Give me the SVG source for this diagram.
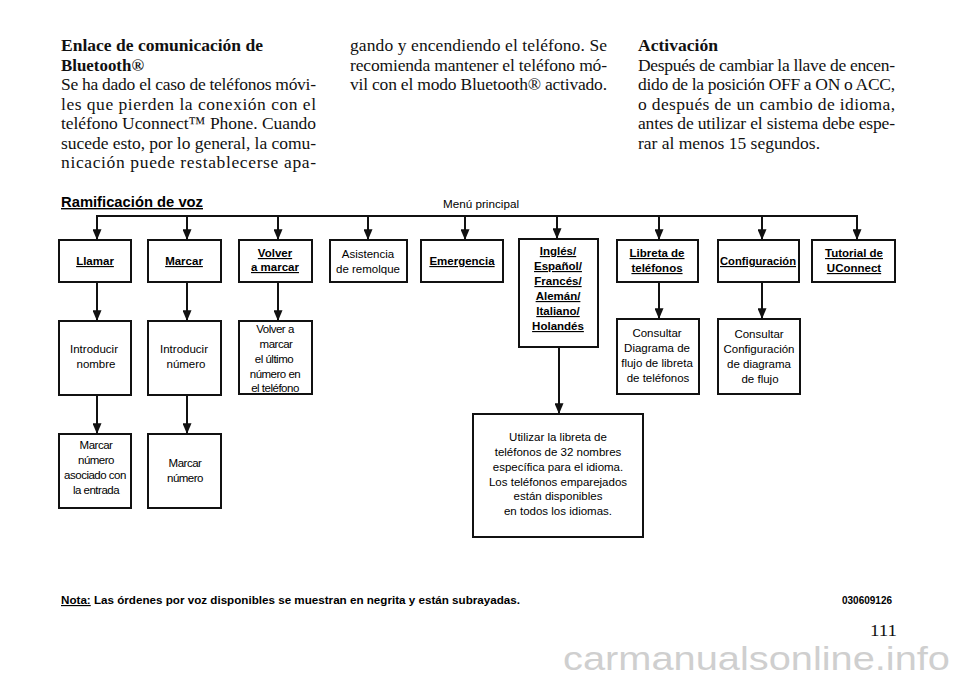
<svg xmlns="http://www.w3.org/2000/svg" width="960" height="678" viewBox="0 0 960 678">
<style>
.bg{fill:#ffffff}
.ser{font-family:"Liberation Serif","Times New Roman",serif;font-size:17.5px;fill:#111}
.serb{font-family:"Liberation Serif","Times New Roman",serif;font-size:17.5px;font-weight:bold;fill:#111}
.box{fill:#ffffff;stroke:#111;stroke-width:2}
.lb{font-family:"Liberation Sans",Arial,sans-serif;font-size:11.5px;font-weight:bold;fill:#000;text-anchor:middle;text-decoration:underline}
.lr{font-family:"Liberation Sans",Arial,sans-serif;font-size:11.5px;fill:#000;text-anchor:middle}
.lc{font-family:"Liberation Sans",Arial,sans-serif;font-size:11.5px;fill:#000;text-anchor:middle;letter-spacing:-0.5px}
.con{stroke:#111;stroke-width:2;fill:none}
.arr{stroke:#111;stroke-width:2;fill:none;marker-end:url(#ah)}
.sans{font-family:"Liberation Sans",Arial,sans-serif;fill:#000}
</style>
<defs>
<marker id="ah" viewBox="0 0 12 10" refX="12" refY="5" markerWidth="12" markerHeight="9" markerUnits="userSpaceOnUse" orient="auto">
<path d="M0,0 L12,5 L0,10 z" fill="#111"/>
</marker>
</defs>
<rect class="bg" x="0" y="0" width="960" height="678"/>

<g id="text-col1">
<text class="serb" x="61" y="51" textLength="202" lengthAdjust="spacingAndGlyphs">Enlace de comunicación de</text>
<text class="serb" x="61" y="70.5" textLength="83" lengthAdjust="spacingAndGlyphs">Bluetooth®</text>
<text class="ser" x="61" y="90" textLength="255" lengthAdjust="spacing">Se ha dado el caso de teléfonos móvi-</text>
<text class="ser" x="61" y="109.5" textLength="255" lengthAdjust="spacing">les que pierden la conexión con el</text>
<text class="ser" x="61" y="129" textLength="255" lengthAdjust="spacing">teléfono Uconnect™ Phone. Cuando</text>
<text class="ser" x="61" y="148.5" textLength="255" lengthAdjust="spacing">sucede esto, por lo general, la comu-</text>
<text class="ser" x="61" y="168" textLength="255" lengthAdjust="spacing">nicación puede restablecerse apa-</text>
</g>
<g id="text-col2">
<text class="ser" x="350" y="51" textLength="257" lengthAdjust="spacing">gando y encendiendo el teléfono. Se</text>
<text class="ser" x="350" y="70.5" textLength="257" lengthAdjust="spacing">recomienda mantener el teléfono mó-</text>
<text class="ser" x="350" y="90" textLength="257" lengthAdjust="spacing">vil con el modo Bluetooth® activado.</text>
</g>
<g id="text-col3">
<text class="serb" x="638" y="51" textLength="80" lengthAdjust="spacingAndGlyphs">Activación</text>
<text class="ser" x="638" y="70.5" textLength="257" lengthAdjust="spacing">Después de cambiar la llave de encen-</text>
<text class="ser" x="638" y="90" textLength="257" lengthAdjust="spacing">dido de la posición OFF a ON o ACC,</text>
<text class="ser" x="638" y="109.5" textLength="257" lengthAdjust="spacing">o después de un cambio de idioma,</text>
<text class="ser" x="638" y="129" textLength="257" lengthAdjust="spacing">antes de utilizar el sistema debe espe-</text>
<text class="ser" x="638" y="148.5" textLength="182" lengthAdjust="spacing">rar al menos 15 segundos.</text>
</g>

<g id="title">
<text class="sans" x="61" y="207" font-size="14" font-weight="bold" text-decoration="underline" textLength="142" lengthAdjust="spacingAndGlyphs">Ramificación de voz</text>
<text class="sans" x="443" y="208" font-size="11.5" textLength="76" lengthAdjust="spacingAndGlyphs">Menú principal</text>
</g>

<g id="connectors">
<path class="con" d="M97,217 V216 H857 V217"/>
<line class="arr" x1="97" y1="215" x2="97" y2="240"/>
<line class="arr" x1="187" y1="216" x2="187" y2="240"/>
<line class="arr" x1="278" y1="216" x2="278" y2="240"/>
<line class="arr" x1="368" y1="216" x2="368" y2="240"/>
<line class="arr" x1="465" y1="216" x2="465" y2="240"/>
<line class="arr" x1="557" y1="216" x2="557" y2="239"/>
<line class="arr" x1="659" y1="216" x2="659" y2="240"/>
<line class="arr" x1="762" y1="216" x2="762" y2="240"/>
<line class="arr" x1="857" y1="215" x2="857" y2="240"/>
<line class="arr" x1="97" y1="282" x2="97" y2="321"/>
<line class="arr" x1="97" y1="395" x2="97" y2="434"/>
<line class="arr" x1="187" y1="282" x2="187" y2="321"/>
<line class="arr" x1="187" y1="395" x2="187" y2="434"/>
<line class="arr" x1="278" y1="282" x2="278" y2="321"/>
<line class="arr" x1="659" y1="282" x2="659" y2="319"/>
<line class="arr" x1="762" y1="282" x2="762" y2="319"/>
<line class="arr" x1="559" y1="347" x2="559" y2="414"/>
</g>

<g id="n-llamar">
<rect class="box" x="59" y="240" width="72" height="42"/>
<text class="lb" x="95" y="265">Llamar</text>
</g>
<g id="n-marcar">
<rect class="box" x="148" y="240" width="73" height="42"/>
<text class="lb" x="184" y="265">Marcar</text>
</g>
<g id="n-volver">
<rect class="box" x="239" y="240" width="73" height="42"/>
<text class="lb" x="275" y="257">Volver</text>
<text class="lb" x="275" y="271">a marcar</text>
</g>
<g id="n-asistencia">
<rect class="box" x="330" y="240" width="77" height="42"/>
<text class="lr" x="368" y="258">Asistencia</text>
<text class="lr" x="368" y="273">de remolque</text>
</g>
<g id="n-emergencia">
<rect class="box" x="421" y="240" width="82" height="42"/>
<text class="lb" x="462" y="265">Emergencia</text>
</g>
<g id="n-idiomas">
<rect class="box" x="519" y="239" width="79" height="108"/>
<text class="lb" x="558" y="255">Inglés/</text>
<text class="lb" x="558" y="270">Español/</text>
<text class="lb" x="558" y="285">Francés/</text>
<text class="lb" x="558" y="300">Alemán/</text>
<text class="lb" x="558" y="315">Italiano/</text>
<text class="lb" x="558" y="330">Holandés</text>
</g>
<g id="n-libreta">
<rect class="box" x="617" y="240" width="81" height="42"/>
<text class="lb" x="657" y="257">Libreta de</text>
<text class="lb" x="657" y="272">teléfonos</text>
</g>
<g id="n-config">
<rect class="box" x="718" y="240" width="81" height="42"/>
<text class="lb" x="758" y="265" textLength="76" lengthAdjust="spacingAndGlyphs">Configuración</text>
</g>
<g id="n-tutorial">
<rect class="box" x="812" y="240" width="83" height="42"/>
<text class="lb" x="854" y="257">Tutorial de</text>
<text class="lb" x="854" y="272">UConnect</text>
</g>

<g id="n-intro-nombre">
<rect class="box" x="59" y="321" width="72" height="74"/>
<text class="lr" x="94" y="353">Introducir</text>
<text class="lr" x="96" y="368">nombre</text>
</g>
<g id="n-intro-numero">
<rect class="box" x="148" y="321" width="73" height="74"/>
<text class="lr" x="184" y="353">Introducir</text>
<text class="lr" x="186" y="368">número</text>
</g>
<g id="n-volver-ultimo">
<rect class="box" x="239" y="321" width="73" height="73"/>
<text class="lc" x="275" y="333">Volver a</text>
<text class="lc" x="276" y="348">marcar</text>
<text class="lc" x="274" y="363">el último</text>
<text class="lc" x="275" y="378">número en</text>
<text class="lc" x="275" y="392">el teléfono</text>
</g>
<g id="n-marcar-asociado">
<rect class="box" x="59" y="434" width="72" height="74"/>
<text class="lc" x="96" y="449">Marcar</text>
<text class="lc" x="96" y="464">número</text>
<text class="lc" x="95" y="479">asociado con</text>
<text class="lc" x="96" y="494">la entrada</text>
</g>
<g id="n-marcar-numero">
<rect class="box" x="148" y="434" width="73" height="74"/>
<text class="lc" x="185" y="467">Marcar</text>
<text class="lc" x="185" y="482">número</text>
</g>
<g id="n-consultar-libreta">
<rect class="box" x="617" y="319" width="82" height="75"/>
<text class="lr" x="657" y="337">Consultar</text>
<text class="lr" x="657" y="352">Diagrama de</text>
<text class="lr" x="657" y="367">flujo de libreta</text>
<text class="lr" x="658" y="382">de teléfonos</text>
</g>
<g id="n-consultar-config">
<rect class="box" x="718" y="319" width="82" height="75"/>
<text class="lr" x="759" y="338">Consultar</text>
<text class="lr" x="759" y="353">Configuración</text>
<text class="lr" x="759" y="368">de diagrama</text>
<text class="lr" x="760" y="383">de flujo</text>
</g>
<g id="n-utilizar">
<rect class="box" x="473" y="414" width="170" height="123"/>
<text class="lr" x="558" y="441">Utilizar la libreta de</text>
<text class="lr" x="558" y="456">teléfonos de 32 nombres</text>
<text class="lr" x="558" y="471">específica para el idioma.</text>
<text class="lr" x="558" y="486">Los teléfonos emparejados</text>
<text class="lr" x="558" y="500">están disponibles</text>
<text class="lr" x="558" y="515">en todos los idiomas.</text>
</g>

<g id="footer">
<text class="sans" x="61" y="604" font-size="11.5" font-weight="bold" textLength="459" lengthAdjust="spacingAndGlyphs"><tspan text-decoration="underline">Nota:</tspan> Las órdenes por voz disponibles se muestran en negrita y están subrayadas.</text>
<text class="sans" x="842" y="604" font-size="10" font-weight="bold" textLength="50" lengthAdjust="spacingAndGlyphs">030609126</text>
<text class="ser" x="870" y="636" font-size="19" textLength="27" lengthAdjust="spacingAndGlyphs">111</text>
<text x="563" y="670" font-family="Liberation Sans, Arial, sans-serif" font-size="33" fill="#cfcfcf" textLength="387" lengthAdjust="spacingAndGlyphs">carmanualsonline.info</text>
</g>
</svg>
